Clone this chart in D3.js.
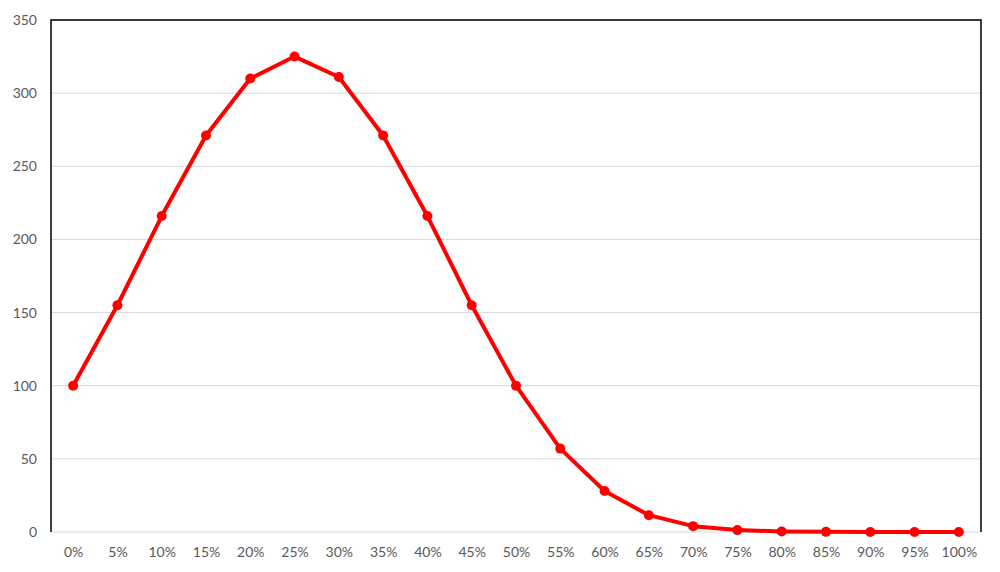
<!DOCTYPE html>
<html>
<head>
<meta charset="utf-8">
<script src="https://cdn.jsdelivr.net/npm/d3@7"></script>
<style>
  html, body { margin: 0; padding: 0; background: #fff; }
  svg text { font-family: Lato, "Open Sans", sans-serif; }
</style>
</head>
<body>
<svg id="chart" width="1000" height="572"></svg>
<script>
const categories = ["0%","5%","10%","15%","20%","25%","30%","35%","40%","45%","50%","55%","60%","65%","70%","75%","80%","85%","90%","95%","100%"];
const values = [100, 155, 216, 271, 310, 325, 311, 271, 216, 155, 100, 57, 28, 11.5, 4, 1.3, 0.4, 0.1, 0, 0, 0];
const yTicks = [0, 50, 100, 150, 200, 250, 300, 350];

const svg = d3.select("#chart");
const L = 51, R = 981, T = 20, B = 532;

const x = d3.scalePoint().domain(categories).range([L, R]).padding(0.5);
const y = d3.scaleLinear().domain([0, 350]).range([B, T]);

// gridlines
svg.append("g").selectAll("line").data(yTicks).join("line")
  .attr("x1", L).attr("x2", R)
  .attr("y1", d => y(d)).attr("y2", d => y(d))
  .attr("stroke", "#d9d9d9").attr("stroke-width", 1);

// border (top, left, right)
svg.append("path")
  .attr("d", `M${L},${B}V${T}H${R}V${B}`)
  .attr("fill", "none").attr("stroke", "#000").attr("stroke-width", 1.5);

// y axis labels
const yAxis = d3.axisLeft(y).tickValues(yTicks).tickSize(0).tickPadding(14);
const gy = svg.append("g").attr("transform", `translate(${L},0)`).call(yAxis);
gy.select(".domain").remove();
gy.selectAll("text").attr("fill", "#595959").style("font-size", "14px");

// x axis labels
const xAxis = d3.axisBottom(x).tickSize(0).tickPadding(15);
const gx = svg.append("g").attr("transform", `translate(0,${B})`).call(xAxis);
gx.select(".domain").remove();
gx.selectAll("text").attr("fill", "#595959").style("font-size", "14px");

// line
const line = d3.line().x((d, i) => x(categories[i])).y(d => y(d));
svg.append("path").datum(values)
  .attr("d", line)
  .attr("fill", "none").attr("stroke", "#ff0000").attr("stroke-width", 4)
  .attr("stroke-linejoin", "round");

svg.append("g").selectAll("circle").data(values).join("circle")
  .attr("cx", (d, i) => x(categories[i])).attr("cy", d => y(d))
  .attr("r", 5).attr("fill", "#ff0000");
</script>
</body>
</html>
